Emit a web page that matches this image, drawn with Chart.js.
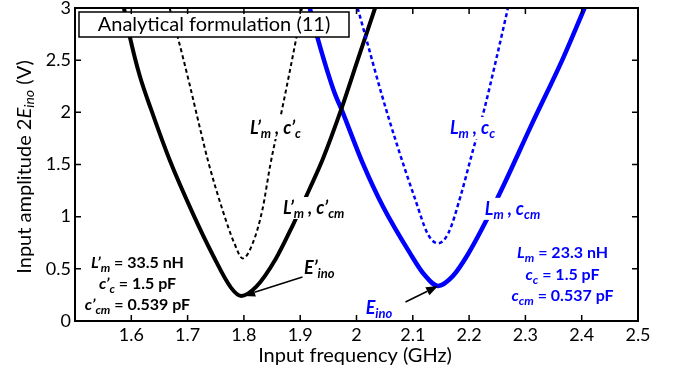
<!DOCTYPE html>
<html>
<head>
<meta charset="utf-8">
<title>Input amplitude vs frequency</title>
<script src="https://cdn.jsdelivr.net/npm/chart.js@4"></script>
<style>
  body { margin: 0; background: #fff; }
  canvas { display: block; }
</style>
</head>
<body>
<canvas id="myChart" width="686" height="376"></canvas>
<script>
/* global Chart */

'use strict';

/* Data */

const xTicks = [1.5, 1.6, 1.7, 1.8, 1.9, 2.0, 2.1, 2.2, 2.3, 2.4, 2.5];
const yTicks = [0, 0.5, 1, 1.5, 2, 2.5, 3];

// L'm, c'cm (black solid)
const freqPrimeCm = [1.587, 1.598, 1.615, 1.635, 1.668, 1.709, 1.745, 1.777, 1.795, 1.822, 1.857, 1.887, 1.917, 1.940, 1.973, 2.002, 2.033];
const ampPrimeCm  = [3.0, 2.71, 2.35, 2.03, 1.545, 1.034, 0.63, 0.32, 0.24, 0.33, 0.6, 0.92, 1.27, 1.55, 2.03, 2.5, 3.0];

// L'm, c'c (black dotted)
const freqPrimeC = [1.668, 1.683, 1.703, 1.721, 1.737, 1.762, 1.783, 1.798, 1.816, 1.833, 1.847, 1.869, 1.893, 1.903];
const ampPrimeC  = [3.0, 2.71, 2.28, 1.87, 1.52, 1.065, 0.745, 0.60, 0.75, 1.07, 1.5, 2.06, 2.71, 3.0];

// Lm, ccm (blue solid)
const freqCm = [1.917, 1.931, 1.959, 1.976, 2.011, 2.047, 2.095, 2.121, 2.145, 2.171, 2.198, 2.236, 2.263, 2.310, 2.367, 2.405];
const ampCm  = [3.0, 2.71, 2.217, 1.993, 1.513, 1.097, 0.65, 0.44, 0.336, 0.43, 0.64, 1.02, 1.32, 1.87, 2.52, 3.0];

// Lm, cc (blue dotted)
const freqC = [2.002, 2.017, 2.044, 2.071, 2.104, 2.127, 2.145, 2.163, 2.185, 2.205, 2.227, 2.248, 2.269];
const ampC  = [3.0, 2.71, 2.185, 1.705, 1.17, 0.83, 0.745, 0.84, 1.2, 1.6, 2.03, 2.505, 3.0];

const BLUE = '#0000ff';
const FONT = 'Lato, "Open Sans", sans-serif';

function points(xs, ys) {
  return xs.map((x, i) => ({ x: x, y: ys[i] }));
}

function minPoint(xs, ys) {
  let k = 0;
  ys.forEach((y, i) => { if (y < ys[k]) k = i; });
  return { x: xs[k], y: ys[k] };
}

/* Text helpers */

function it(t) {
  return { t: t, font: 'italic bold 18px ' + FONT };
}
function sub(t) {
  return { t: t, font: 'italic bold 13px ' + FONT, dy: 4 };
}
function itS(t) {
  return { t: t, font: 'italic bold 16px ' + FONT };
}
function subS(t) {
  return { t: t, font: 'italic bold 12px ' + FONT, dy: 4 };
}
function bd(t) {
  return { t: t, font: 'bold 16px ' + FONT };
}

function richWidth(ctx, parts) {
  let w = 0;
  parts.forEach(p => { ctx.font = p.font; w += ctx.measureText(p.t).width; });
  return w;
}

function drawRich(ctx, parts, cx, cy, color, bg) {
  const w = richWidth(ctx, parts);
  let x = cx - w / 2;
  if (bg) {
    ctx.fillStyle = '#fff';
    ctx.fillRect(x - 2, cy - 11, w + 4, 22);
  }
  ctx.fillStyle = color;
  ctx.textBaseline = 'alphabetic';
  ctx.textAlign = 'left';
  parts.forEach(p => {
    ctx.font = p.font;
    ctx.fillText(p.t, x, cy + 6 + (p.dy || 0));
    x += ctx.measureText(p.t).width;
  });
}

function arrow(ctx, x0, y0, x1, y1) {
  const a = Math.atan2(y1 - y0, x1 - x0);
  const len = 12, hw = 4.5;
  ctx.strokeStyle = '#000';
  ctx.fillStyle = '#000';
  ctx.lineWidth = 1.5;
  ctx.beginPath();
  ctx.moveTo(x0, y0);
  ctx.lineTo(x1 - len * Math.cos(a), y1 - len * Math.sin(a));
  ctx.stroke();
  ctx.beginPath();
  ctx.moveTo(x1, y1);
  ctx.lineTo(x1 - len * Math.cos(a) + hw * Math.sin(a), y1 - len * Math.sin(a) - hw * Math.cos(a));
  ctx.lineTo(x1 - len * Math.cos(a) - hw * Math.sin(a), y1 - len * Math.sin(a) + hw * Math.cos(a));
  ctx.closePath();
  ctx.fill();
}

function fmt(v) {
  return String(+v.toFixed(1));
}

/* Labels, box, frame, ticks */

const decorations = {
  id: 'decorations',
  afterDatasetsDraw(chart) {
    const ctx = chart.ctx;
    const a = chart.chartArea;
    const xs = chart.scales.x;
    const ys = chart.scales.y;
    const px = v => xs.getPixelForValue(v);
    const py = v => ys.getPixelForValue(v);

    ctx.save();

    // curve labels
    drawRich(ctx, [it('L’'), sub('m'), it(' , c’'), sub('c')], px(1.856), py(1.85), '#000', true);
    drawRich(ctx, [it('L’'), sub('m'), it(' , c’'), sub('cm')], px(1.924), py(1.083), '#000', true);
    drawRich(ctx, [it('L'), sub('m'), it(' , c'), sub('c')], px(2.206), py(1.85), BLUE, true);
    drawRich(ctx, [it('L'), sub('m'), it(' , c'), sub('cm')], px(2.277), py(1.075), BLUE, true);

    // parameter blocks
    drawRich(ctx, [itS('L’'), subS('m'), bd(' = 33.5 nH')], px(1.611), py(0.569), '#000');
    drawRich(ctx, [itS('c’'), subS('c'), bd(' = 1.5 pF')], px(1.611), py(0.362), '#000');
    drawRich(ctx, [itS('c’'), subS('cm'), bd(' = 0.539 pF')], px(1.611), py(0.163), '#000');
    drawRich(ctx, [itS('L'), subS('m'), bd(' = 23.3 nH')], px(2.366), py(0.665), BLUE);
    drawRich(ctx, [itS('c'), subS('c'), bd(' = 1.5 pF')], px(2.366), py(0.448), BLUE);
    drawRich(ctx, [itS('c'), subS('cm'), bd(' = 0.537 pF')], px(2.366), py(0.250), BLUE);

    // minimum markers
    const m1 = minPoint(freqPrimeCm, ampPrimeCm);
    const m2 = minPoint(freqCm, ampCm);
    drawRich(ctx, [it('E’'), sub('ino')], px(1.934), py(0.509), '#000');
    arrow(ctx, px(1.904), py(0.422), px(m1.x) + 2, py(m1.y));
    drawRich(ctx, [it('E'), sub('ino')], px(2.040), py(0.128), BLUE);
    arrow(ctx, px(2.087), py(0.182), px(m2.x), py(m2.y));

    // title box
    ctx.font = '20px ' + FONT;
    ctx.fillStyle = '#fff';
    ctx.fillRect(a.left + 4, a.top + 4, 270, 25);
    ctx.strokeStyle = '#000';
    ctx.lineWidth = 1.5;
    ctx.strokeRect(a.left + 4, a.top + 4, 270, 25);
    ctx.fillStyle = '#000';
    ctx.textAlign = 'center';
    ctx.textBaseline = 'middle';
    ctx.fillText('Analytical formulation (11)', a.left + 4 + 135, a.top + 17);

    // frame
    ctx.lineWidth = 2;
    ctx.strokeRect(a.left, a.top, a.right - a.left, a.bottom - a.top);

    // inward ticks on all sides
    ctx.lineWidth = 1.5;
    ctx.beginPath();
    xTicks.forEach(v => {
      const x = px(v);
      ctx.moveTo(x, a.bottom); ctx.lineTo(x, a.bottom - 6);
      ctx.moveTo(x, a.top); ctx.lineTo(x, a.top + 6);
    });
    yTicks.forEach(v => {
      const y = py(v);
      ctx.moveTo(a.left, y); ctx.lineTo(a.left + 6, y);
      ctx.moveTo(a.right, y); ctx.lineTo(a.right - 6, y);
    });
    ctx.stroke();

    // tick labels
    ctx.font = '18px ' + FONT;
    ctx.fillStyle = '#000';
    ctx.textAlign = 'center';
    ctx.textBaseline = 'top';
    xTicks.forEach(v => {
      if (v === xTicks[0]) return;
      ctx.fillText(fmt(v), px(v), a.bottom + 5);
    });
    ctx.textAlign = 'right';
    ctx.textBaseline = 'middle';
    yTicks.forEach(v => {
      ctx.fillText(fmt(v), a.left - 4, py(v));
    });

    // axis titles
    ctx.font = '20px ' + FONT;
    ctx.textAlign = 'center';
    ctx.textBaseline = 'middle';
    ctx.fillText('Input frequency (GHz)', 355, 356);

    ctx.translate(25, 167);
    ctx.rotate(-Math.PI / 2);
    const yt = [
      { t: 'Input amplitude 2', font: '20px ' + FONT },
      { t: 'E', font: 'italic 20px ' + FONT },
      { t: 'ino', font: 'italic 14px ' + FONT, dy: 4 },
      { t: ' (V)', font: '20px ' + FONT }
    ];
    const w = richWidth(ctx, yt);
    let x = -w / 2;
    ctx.textAlign = 'left';
    ctx.textBaseline = 'middle';
    yt.forEach(p => {
      ctx.font = p.font;
      ctx.fillText(p.t, x, p.dy || 0);
      x += ctx.measureText(p.t).width;
    });

    ctx.restore();
  }
};

/* Chart */

const ctx = document.getElementById('myChart').getContext('2d');

const chart = new Chart(ctx, {
  type: 'line',
  data: {
    datasets: [{
      label: "L'm, c'c",
      data: points(freqPrimeC, ampPrimeC),
      borderColor: '#000',
      borderWidth: 2,
      borderDash: [4, 3],
    },
    {
      label: 'Lm, cc',
      data: points(freqC, ampC),
      borderColor: BLUE,
      borderWidth: 2.5,
      borderDash: [4, 3],
    },
    {
      label: "L'm, c'cm",
      data: points(freqPrimeCm, ampPrimeCm),
      borderColor: '#000',
      borderWidth: 4,
    },
    {
      label: 'Lm, ccm',
      data: points(freqCm, ampCm),
      borderColor: BLUE,
      borderWidth: 4.5,
    }]
  },
  options: {
    responsive: false,
    animation: false,
    events: [],
    layout: { padding: { top: 8, right: 48, left: 0, bottom: 0 } },
    elements: {
      point: { radius: 0 },
      line: { cubicInterpolationMode: 'monotone', fill: false }
    },
    plugins: {
      legend: { display: false },
      tooltip: { enabled: false }
    },
    scales: {
      x: {
        type: 'linear',
        min: 1.5,
        max: 2.5,
        grid: { display: false },
        border: { display: false },
        ticks: { display: false },
        afterBuildTicks: s => { s.ticks = xTicks.map(v => ({ value: v })); },
        afterFit: s => { s.height = 55; }
      },
      y: {
        min: 0,
        max: 3,
        grid: { display: false },
        border: { display: false },
        ticks: { display: false },
        afterBuildTicks: s => { s.ticks = yTicks.map(v => ({ value: v })); },
        afterFit: s => { s.width = 75; }
      }
    }
  },
  plugins: [decorations]
});
</script>
</body>
</html>
